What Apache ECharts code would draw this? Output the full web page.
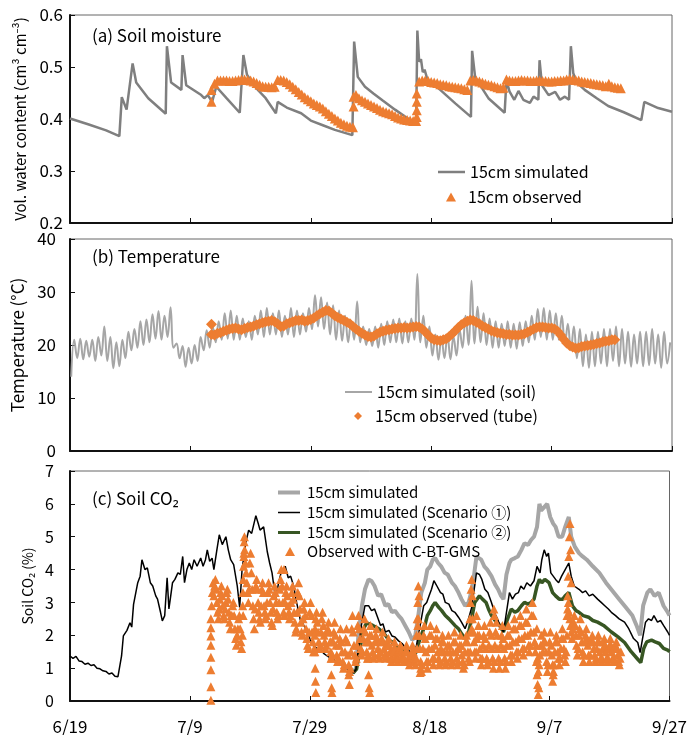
<!DOCTYPE html>
<html>
<head>
<meta charset="utf-8">
<script src="https://cdn.jsdelivr.net/npm/echarts@6/dist/echarts.min.js"></script>
<style>
html, body { margin: 0; padding: 0; background: #fff; }
#main { width: 690px; height: 735px; }
</style>
</head>
<body>
<div id="main"></div>
<script>
// x values are days counted from 6/19
var tickLabels = ['6/19', '7/9', '7/29', '8/18', '9/7', '9/27'];

// (a) soil moisture, simulated [day, value]
var moistSim = [[0,0.401],[3,0.39],[6,0.378],[8.2,0.367],[8.6,0.442],[9.4,0.418],[10.4,0.507],[11,0.47],[13,0.44],
  [15.9,0.41],[16.1,0.54],[16.8,0.47],[18.5,0.456],[18.7,0.523],[19.3,0.465],[21.8,0.446],[22.3,0.44],[22.9,0.446],
  [23.6,0.433],[24.3,0.462],[26,0.44],[28.2,0.412],[28.8,0.523],[29.4,0.485],[30.7,0.462],[32.5,0.44],[34.2,0.411],
  [34.5,0.433],[36,0.422],[38.4,0.411],[40,0.397],[42,0.388],[44,0.379],[46.9,0.369],[47.2,0.549],[47.8,0.481],
  [49,0.462],[50.4,0.449],[52,0.435],[54,0.418],[56,0.402],[57.5,0.392],[57.7,0.57],[58,0.51],[58.3,0.515],
  [58.6,0.49],[58.9,0.495],[59.4,0.475],[61.5,0.456],[64,0.43],[66.6,0.404],[66.8,0.531],[67.3,0.48],[69.5,0.44],
  [72.2,0.412],[72.5,0.475],[73,0.453],[73.8,0.437],[74.5,0.454],[75.3,0.437],[76.4,0.431],[77,0.443],[77.8,0.437],
  [78,0.513],[78.4,0.465],[79.5,0.446],[80.6,0.452],[81.4,0.437],[82.2,0.443],[82.9,0.437],[83.2,0.54],[83.6,0.488],
  [84.2,0.47],[85.5,0.456],[87.5,0.44],[89.4,0.425],[92,0.413],[94.9,0.398],[95.4,0.433],[97.7,0.421],[100,0.414]];

// (a) observed, every half day from day 23.5
var moistObsStart = 23.5;
var moistObs = [0.456,0.468,0.474,0.474,0.474,0.474,0.473,0.473,0.474,0.475,0.476,0.476,0.475,0.474,0.472,0.469,
  0.466,0.463,0.462,0.462,0.461,0.462,0.475,0.475,0.474,0.471,0.467,0.462,0.457,0.452,0.447,0.442,0.438,0.434,
  0.430,0.427,0.424,0.420,0.415,0.410,0.406,0.401,0.397,0.393,0.390,0.387,0.385,0.384,0.446,0.440,0.436,0.433,
  0.430,0.427,0.424,0.421,0.418,0.415,0.413,0.411,0.409,0.406,0.403,0.401,0.399,0.398,0.397,0.396,0.396,0.472,
  0.474,0.474,0.473,0.471,0.470,0.469,0.467,0.466,0.465,0.463,0.462,0.461,0.460,0.459,0.457,0.456,0.474,0.475,
  0.474,0.472,0.470,0.468,0.466,0.465,0.463,0.461,0.459,0.460,0.476,0.474,0.473,0.473,0.474,0.475,0.474,0.474,
  0.473,0.473,0.474,0.474,0.473,0.473,0.472,0.472,0.473,0.473,0.474,0.474,0.476,0.477,0.476,0.475,0.474,0.472,
  0.471,0.470,0.469,0.468,0.467,0.466,0.465,0.463,0.468,0.463,0.461,0.460,0.459];
var moistObsExtra = [[23.5,0.433],[47.1,0.424],[47.1,0.443],[57.6,0.404],[57.6,0.417],[57.6,0.433],[57.6,0.449]];

// (b) temperature, simulated daily low / high
var tempSimLo = [14.0,17.5,17.3,17.8,17.0,18.0,17.0,15.6,16.0,17.5,19.0,19.5,20.0,20.5,21.2,21.0,21.5,19.5,17.5,15.9,
  16.5,17.0,19.0,19.5,20.5,21.0,21.2,21.0,21.0,21.5,21.0,22.0,21.5,22.0,22.0,21.5,22.0,21.5,22.0,22.5,
  23.0,23.5,23.0,22.0,21.0,20.8,20.5,21.0,20.5,20.0,19.8,19.5,20.0,20.5,20.5,20.3,20.5,21.0,20.5,19.5,
  18.0,17.2,17.5,17.3,18.0,19.5,20.0,20.3,20.5,20.0,19.5,19.5,19.8,19.5,19.3,19.8,20.5,21.0,21.5,21.0,
  21.0,21.0,20.0,19.0,17.5,16.0,15.7,16.0,16.5,16.0,17.0,16.0,16.5,15.9,16.5,16.0,16.2,16.5,15.7,16.5];
var tempSimHi = [21.0,21.2,20.8,21.0,21.5,23.5,21.5,20.5,21.0,22.5,23.0,24.5,24.8,25.8,26.4,25.5,27.1,20.3,19.8,19.5,
  20.0,21.5,22.8,23.5,24.5,26.0,26.5,25.5,25.0,24.5,25.5,26.5,27.0,26.0,26.5,25.5,27.0,26.5,26.0,27.0,
  29.4,29.0,28.0,27.5,26.5,25.5,24.5,28.2,23.5,23.0,23.5,24.0,24.5,24.8,25.0,24.5,25.0,33.4,25.5,23.5,
  22.0,21.5,22.0,21.6,23.0,25.5,32.1,27.2,26.0,25.0,24.5,24.0,24.5,24.0,24.3,24.5,25.5,26.8,27.0,26.5,
  26.0,25.5,24.0,23.5,23.0,22.0,22.5,22.5,23.0,23.0,23.5,23.0,22.5,22.0,22.5,22.5,23.0,22.0,22.5,20.5];

// (b) observed, every half day from day 23.5
var tempObsStart = 23.5;
var tempObs = [22.0,21.9,22.2,22.3,22.6,22.8,23.0,23.1,23.2,23.0,22.9,23.1,23.3,23.4,23.6,23.8,24.0,24.2,24.4,24.5,
  24.6,24.4,24.0,23.5,23.6,24.0,24.2,24.4,24.6,24.6,24.7,24.5,24.6,24.8,25.1,25.5,25.9,26.2,26.5,26.4,
  26.0,25.5,25.2,24.9,24.6,24.3,24.0,23.5,23.0,22.6,22.2,21.9,21.6,21.5,21.7,22.1,22.4,22.6,22.8,22.9,
  23.0,23.1,23.2,23.2,23.3,23.2,23.3,23.4,23.5,23.4,23.0,22.5,21.9,21.3,21.0,20.9,20.8,21.0,21.2,21.6,
  22.1,22.7,23.3,23.8,24.2,24.5,24.7,24.6,24.3,24.0,23.6,23.3,23.0,22.7,22.5,22.3,22.2,22.1,22.0,22.0,
  21.9,21.9,21.9,22.0,22.1,22.4,22.7,23.0,23.3,23.4,23.4,23.3,23.2,23.2,23.0,22.6,21.9,21.1,20.4,19.9,
  19.6,19.4,19.5,19.7,19.8,19.9,20.0,20.1,20.3,20.4,20.6,20.7,20.8,21.0,21.0];
var tempObsExtra = [[23.5,23.9]];

// (c) soil CO2 [day, %]
var co2Sim = [[47.2,0.85],[47.7,1.0],[48.1,2.0],[48.7,2.9],[49.2,3.4],[49.8,3.7],[50.3,3.65],[50.8,3.5],[51.4,3.2],
  [51.9,3.25],[52.6,2.9],[53.1,2.95],[53.7,2.7],[54.2,2.75],[54.8,2.6],[55.3,2.5],[55.9,2.3],[56.5,2.1],[57.1,1.85],
  [57.6,2.0],[58.1,2.6],[58.6,3.3],[59.2,3.6],[59.6,4.0],[60.1,4.1],[60.5,4.3],[60.9,4.35],[61.4,4.2],[61.9,4.1],
  [62.5,3.9],[63,3.85],[63.7,3.6],[64.2,3.5],[64.8,3.3],[65.3,3.1],[65.9,2.9],[66.5,3.0],[66.9,3.3],[67.3,3.7],
  [67.8,4.4],[68.2,4.35],[68.6,4.3],[69.1,4.1],[69.6,4.0],[70.3,3.8],[70.9,3.55],[71.4,3.4],[71.9,3.2],[72.3,3.1],
  [72.8,3.85],[73.3,4.2],[73.6,4.3],[74.2,4.35],[74.7,4.4],[75.3,4.6],[75.8,4.8],[76.4,4.75],[76.9,4.9],[77.4,5.0],
  [77.9,5.3],[78.3,6.0],[78.6,5.8],[79.1,5.9],[79.6,6.0],[80.1,5.6],[80.6,5.4],[81,5.3],[81.5,5.0],[82.1,5.0],
  [82.6,5.3],[83.2,5.6],[83.6,5.0],[84.2,4.7],[84.9,4.5],[85.5,4.4],[86.2,4.3],[87.2,4.1],[88.3,3.9],[89.4,3.6],
  [90.5,3.35],[91.6,3.1],[92.7,2.85],[93.8,2.6],[94.5,2.3],[95.1,2.0],[95.6,2.9],[96.3,3.3],[96.8,3.4],[97.5,3.2],
  [98.2,3.3],[99,2.9],[99.7,2.7],[100,2.6]];
var co2Scen1 = [[0,1.37],[0.5,1.30],[1,1.36],[1.5,1.22],[2,1.2],[2.5,1.12],[3,1.15],[3.5,1.08],[4,1.1],[4.5,1.0],
  [5,0.98],[5.5,0.92],[6,0.9],[6.5,0.82],[7,0.85],[7.5,0.75],[8,0.74],[8.3,0.72],[8.6,1.37],[8.9,1.98],[9.5,2.15],
  [10,2.38],[10.3,2.25],[10.6,2.94],[11.3,3.6],[11.7,3.8],[12,4.3],[12.5,4.0],[12.9,4.05],[13.4,3.6],[13.8,3.5],
  [14.3,3.2],[14.6,3.1],[15.1,2.7],[15.4,2.44],[15.8,2.6],[16.2,3.75],[16.5,2.8],[16.8,3.2],[17.1,3.6],[17.5,3.7],
  [18,3.9],[18.4,3.85],[18.8,4.4],[19.1,3.6],[19.5,4.0],[19.9,4.2],[20.3,4.0],[20.7,4.3],[21.2,4.1],[21.8,4.35],
  [22.2,4.1],[22.6,4.3],[22.9,4.6],[23.3,4.25],[23.7,4.35],[24,4.0],[24.5,4.6],[24.9,5.06],[25.4,4.76],[26,5.0],
  [26.4,4.6],[26.8,4.3],[27.3,4.15],[27.9,3.5],[28.3,2.85],[28.7,4.0],[29.3,4.8],[29.8,5.2],[30.3,5.1],[31,5.64],
  [31.4,5.4],[31.7,5.2],[32.3,5.3],[32.9,4.55],[33.3,4.2],[33.7,3.9],[34.3,3.1],[34.8,3.6],[35.2,3.9],[35.9,4.1],
  [36.4,3.75],[36.8,3.8],[37.3,3.5],[37.8,3.0],[38.4,2.48],[39,2.3],[39.5,2.18],[40,1.9],[40.6,1.68],[41.2,1.6],
  [41.8,1.58],[42.3,1.45],[42.9,1.37],[43.5,1.3],[44,1.27],[44.6,1.15],[45.1,1.1],[45.6,1.07],[46.2,0.98],
  [46.7,0.92],[47.2,0.85],[47.7,0.95],[48.1,1.6],[48.6,2.3],[49.2,2.9],[49.8,2.9],[50.3,2.75],[50.8,2.8],[51.2,2.6],
  [51.8,2.3],[52.2,2.35],[52.6,2.1],[53.2,2.15],[53.7,1.98],[54.2,1.95],[54.8,1.83],[55.4,1.75],[55.9,1.63],
  [56.5,1.55],[57,1.37],[57.4,1.47],[57.8,1.7],[58.2,2.1],[59,2.9],[59.5,3.0],[59.9,3.2],[60.3,3.4],[60.7,3.66],
  [61.2,3.5],[61.8,3.3],[62.2,3.25],[62.6,3.0],[63.2,2.95],[63.7,2.75],[64.2,2.7],[64.8,2.55],[65.3,2.4],[65.9,2.2],
  [66.4,2.45],[67,2.85],[67.5,3.5],[67.8,3.9],[68.3,3.85],[68.7,3.7],[69.2,3.4],[69.7,3.3],[70.3,3.0],[70.9,2.65],
  [71.3,2.5],[71.7,2.3],[72.3,2.1],[72.8,2.7],[73.3,3.3],[73.8,3.1],[74.3,3.25],[74.8,3.3],[75.2,3.5],[75.7,3.4],
  [76.2,3.6],[76.8,3.5],[77.4,3.66],[77.9,4.1],[78.4,3.9],[78.7,4.3],[79.1,4.6],[79.5,4.4],[79.8,4.5],[80.2,3.9],
  [80.6,3.8],[81,3.7],[81.5,3.6],[82,3.8],[82.6,4.0],[83.2,4.2],[83.6,3.8],[84.1,3.5],[84.9,3.4],[85.5,3.3],
  [86,3.35],[86.6,3.2],[87.2,3.25],[88,3.1],[88.6,3.0],[89.2,2.9],[89.8,2.8],[90.3,2.7],[91,2.6],[91.6,2.5],
  [92.5,2.4],[93.2,2.2],[94,1.9],[94.7,1.78],[95.1,1.47],[95.5,1.9],[96,2.4],[96.5,2.5],[97,2.45],[97.4,2.6],
  [98,2.4],[98.5,2.45],[99,2.3],[99.7,2.1],[100,2.0]];
var co2Scen2 = [[47.2,0.85],[47.8,0.97],[48.3,1.5],[48.9,2.18],[49.5,2.38],[49.9,2.35],[50.5,2.3],[51,2.25],[51.5,2.2],
  [52.1,2.1],[52.6,2.0],[53.2,1.85],[53.7,1.8],[54.2,1.7],[55,1.6],[55.9,1.5],[56.6,1.4],[57.3,1.25],[57.8,1.55],
  [58.4,1.9],[59.2,2.3],[59.6,2.6],[60.1,2.75],[60.5,2.9],[60.9,3.0],[61.5,2.85],[62,2.75],[62.6,2.6],[63.2,2.5],
  [63.7,2.4],[64.2,2.3],[64.8,2.2],[65.3,2.05],[65.9,1.9],[66.5,2.1],[67,2.5],[67.5,3.0],[68.3,3.2],[68.8,3.1],
  [69.4,3.0],[69.8,2.8],[70.3,2.6],[70.9,2.45],[71.5,2.35],[72.3,2.1],[72.8,2.4],[73.6,2.8],[74.2,2.7],[74.7,2.75],
  [75.3,2.9],[75.8,3.0],[76.4,2.95],[76.9,3.0],[77.4,3.1],[77.9,3.5],[78.3,3.7],[78.7,3.6],[79.2,3.7],[79.9,3.6],
  [80.5,3.3],[81,3.2],[81.6,3.1],[82.2,3.1],[82.6,3.2],[83.2,3.3],[83.8,2.9],[84.4,2.75],[84.9,2.7],[85.6,2.6],
  [86.5,2.55],[87.2,2.45],[88,2.4],[89,2.3],[90.3,2.1],[91.4,1.95],[92.5,1.78],[93.6,1.5],[94.7,1.27],[95.2,1.17],
  [95.7,1.6],[96.2,1.8],[97,1.85],[97.6,1.8],[98.3,1.75],[99,1.6],[99.7,1.55],[100,1.5]];

// (c) observed, every 1/8 day from day 23.5 (one row per day)
var co2ObsStart = 23.5;
var co2Obs = [2.5,2.9,3.3,3.6,
  3.2,3.5,3.7,3.4,3.0,2.7,2.5,2.8,  3.1,3.3,3.5,3.2,2.9,2.6,2.5,2.8,
  3.0,3.3,3.4,3.1,2.7,2.4,2.2,2.6,  2.6,2.9,3.0,2.6,2.2,1.9,1.7,2.0,
  2.2,2.5,2.6,2.2,1.8,1.6,2.0,2.6,  4.4,4.6,4.2,3.9,3.6,3.3,3.0,3.4,
  4.2,4.5,3.9,3.4,2.9,2.5,2.2,2.8,  3.5,3.7,3.4,3.0,2.7,2.5,2.4,2.9,
  3.4,3.6,3.3,2.9,2.7,2.5,2.6,3.0,  3.3,3.6,3.4,3.0,2.7,2.4,2.3,2.8,
  3.2,3.5,3.3,3.0,2.7,2.5,2.6,3.0,  3.4,3.7,4.0,3.5,3.0,2.7,2.6,3.0,
  3.3,3.5,3.2,2.9,2.7,2.5,2.6,3.0,  3.3,3.5,3.1,2.7,2.4,2.1,2.2,2.7,
  3.3,3.6,3.2,2.8,2.4,2.1,2.0,2.5,  2.8,3.0,2.6,2.2,1.9,1.7,1.6,2.1,
  2.7,3.0,2.6,2.1,1.8,1.5,1.6,2.2,  2.5,2.7,2.4,2.1,1.8,1.6,1.7,2.1,
  2.5,2.7,2.3,2.0,1.8,1.6,1.7,2.1,  2.2,2.4,2.1,1.8,1.5,1.3,1.4,1.8,
  2.1,2.4,2.0,1.7,1.4,1.2,1.3,1.7,  1.9,2.2,1.8,1.5,1.2,1.0,1.1,1.5,
  1.9,2.2,1.8,1.4,1.1,0.9,1.0,1.5,  2.2,2.6,2.1,1.7,1.4,1.2,1.3,1.7,
  2.3,2.6,2.2,1.9,1.6,1.4,1.5,1.9,  2.2,2.5,2.1,1.8,1.5,1.3,1.4,1.8,
  2.0,2.3,2.0,1.7,1.5,1.3,1.4,1.8,  2.0,2.2,1.9,1.6,1.4,1.3,1.5,1.8,
  1.9,2.1,1.8,1.6,1.4,1.3,1.4,1.7,  1.7,1.9,1.7,1.5,1.3,1.2,1.3,1.5,
  1.6,1.8,1.6,1.4,1.3,1.2,1.3,1.5,  1.6,1.7,1.5,1.4,1.3,1.2,1.3,1.5,
  1.5,1.7,1.5,1.3,1.2,1.1,1.2,1.4,  1.5,1.7,1.5,1.3,1.2,1.1,1.3,1.6,
  2.3,2.5,2.0,1.6,1.2,0.9,1.1,1.6,  2.0,2.3,1.9,1.5,1.2,1.0,1.2,1.6,
  2.0,2.3,2.0,1.6,1.3,1.1,1.3,1.7,  1.9,2.2,1.9,1.5,1.3,1.1,1.2,1.6,
  1.8,2.0,1.8,1.5,1.3,1.1,1.2,1.5,  1.7,2.0,1.7,1.5,1.3,1.1,1.2,1.5,
  1.8,2.1,1.8,1.5,1.3,1.1,1.2,1.6,  1.7,2.0,1.7,1.4,1.2,1.0,1.1,1.5,
  1.8,2.0,1.8,1.5,1.3,1.2,1.5,2.1,  2.2,2.5,2.1,1.8,1.5,1.3,1.5,1.9,
  2.0,2.3,2.0,1.6,1.3,1.1,1.3,1.7,  2.0,2.3,1.9,1.6,1.3,1.1,1.2,1.7,
  2.1,2.4,2.0,1.6,1.3,1.0,1.2,1.7,  2.1,2.4,2.0,1.6,1.3,1.0,1.2,1.7,
  2.0,2.3,1.9,1.6,1.3,1.0,1.2,1.7,  2.0,2.3,2.0,1.7,1.4,1.2,1.4,1.8,
  2.2,2.5,2.2,1.8,1.5,1.3,1.5,1.9,  2.3,2.6,2.3,1.9,1.6,1.4,1.6,2.0,
  2.4,2.8,2.4,2.0,1.7,1.5,1.7,2.1,  2.6,3.0,2.6,2.1,1.8,1.5,1.7,2.2,
  1.3,0.9,1.1,1.4,1.7,2.0,1.7,1.5,  1.8,2.1,1.8,1.5,1.2,0.9,1.1,1.5,
  1.8,2.1,1.7,1.4,1.1,0.9,1.1,1.5,  1.8,2.0,1.8,1.5,1.3,1.1,1.3,1.6,
  1.9,2.2,1.9,1.6,1.4,1.2,1.5,2.0,  2.8,3.0,2.7,2.5,2.3,2.1,1.9,2.2,
  2.4,2.6,2.3,2.0,1.7,1.4,1.6,2.0,  2.2,2.5,2.1,1.8,1.5,1.2,1.4,1.8,
  2.0,2.2,1.9,1.7,1.4,1.2,1.4,1.8,  1.8,2.0,1.8,1.6,1.4,1.2,1.3,1.6,
  1.8,2.0,1.8,1.5,1.3,1.2,1.3,1.6,  1.8,1.9,1.7,1.5,1.3,1.2,1.3,1.6,
  1.7,1.9,1.7,1.5,1.3,1.2,1.3,1.6,  1.7,1.8,1.6,1.4,1.2,1.1,1.3,1.5];
var co2ObsSpikes = [[23.5,0.02],[23.5,0.43],[23.5,0.95],[23.5,1.33],[23.5,1.7],[23.5,1.98],[23.5,2.23],
  [28.8,2.9],[28.85,3.3],[28.9,3.7],[28.95,4.1],[29.0,4.5],[29.05,4.85],[29.1,5.0],[35.7,4.0],
  [40.8,2.0],[40.85,1.5],[40.9,1.0],[40.95,0.6],[41.0,0.26],[43.5,1.8],[43.55,1.3],[43.6,0.8],[43.65,0.4],[43.7,0.26],
  [46.5,0.8],[46.6,0.5],[49.6,1.8],[49.7,1.3],[49.8,0.8],[49.9,0.4],[50.0,0.26],
  [57.8,2.0],[57.9,2.5],[58.0,3.0],[58.1,3.5],[58.2,3.2],[58.4,0.87],[58.5,1.0],
  [66.7,2.5],[66.8,3.0],[66.9,3.4],[67.0,3.7],[67.1,3.2],[67.8,2.6],[70.7,2.8],[70.8,2.6],
  [77.8,1.2],[77.9,0.8],[78.0,0.5],[78.1,0.2],[78.2,0.4],[80.5,0.6],[80.6,0.8],
  [82.9,2.6],[83.0,3.2],[83.1,3.8],[83.2,4.4],[83.3,5.0],[83.4,5.4],[83.5,4.6],[83.6,3.6]];

var legendText = {
  aSim: '15cm simulated', aObs: '15cm observed',
  bSim: '15cm simulated (soil)', bObs: '15cm observed (tube)',
  cSim: '15cm simulated', cS1: '15cm simulated (Scenario \u2460)',
  cS2: '15cm simulated (Scenario \u2461)', cObs: 'Observed with C-BT-GMS'
};

function stepped(start, step, vals) {
  return vals.map(function (v, i) { return [start + i * step, v]; });
}

var tempSim = [];
for (var d = 0; d < tempSimLo.length; d++) {
  tempSim.push([d + 0.2, tempSimLo[d]]);
  tempSim.push([d + 0.7, tempSimHi[d]]);
}

var FONT = '"Noto Sans CJK JP", "Noto Sans", sans-serif';
var chart = echarts.init(document.getElementById('main'), null, { renderer: 'canvas' });

var grids = [
  { left: 70, top: 15, width: 602, height: 208 },
  { left: 70, top: 239, width: 602, height: 212 },
  { left: 70, top: 471, width: 602, height: 231 }
];

function xAxisFor(i, showLabel) {
  return {
    type: 'value', gridIndex: i, min: 0, max: 100, interval: 20,
    axisLine: { show: true, onZero: false, lineStyle: { color: '#111', width: 2 } },
    axisTick: { show: true, inside: true, length: 5, lineStyle: { color: '#111', width: 1 } },
    splitLine: { show: false },
    axisLabel: {
      show: showLabel, margin: 17, fontSize: 17, color: '#000', fontFamily: FONT,
      formatter: function (v) { return tickLabels[Math.round(v / 20)]; }
    }
  };
}

function yAxisFor(i, min, max, interval, name, nameGap, nameSize, labelSize, margin, fmt) {
  return {
    type: 'value', gridIndex: i, min: min, max: max, interval: interval,
    name: name, nameLocation: 'middle', nameGap: nameGap,
    nameTextStyle: { fontSize: nameSize, color: '#000', fontFamily: FONT },
    axisLine: { show: true, lineStyle: { color: '#111', width: 2 } },
    axisTick: { show: true, inside: true, length: 5, lineStyle: { color: '#111' } },
    splitLine: { show: false },
    axisLabel: { fontSize: labelSize, color: '#000', margin: margin, fontFamily: FONT, formatter: fmt }
  };
}

function legendFor(names, left, top, w, h, size, pad) {
  return {
    data: names, left: left, top: top, itemWidth: w, itemHeight: h, orient: 'vertical',
    formatter: function (n) { return legendText[n]; },
    textStyle: { fontSize: size, color: '#000', fontFamily: FONT, padding: [0, 0, 0, pad] }
  };
}

var option = {
  animation: false,
  backgroundColor: '#fff',
  textStyle: { fontFamily: FONT },
  grid: grids.map(function (g) {
    return Object.assign({ show: true, borderColor: '#666', borderWidth: 1, backgroundColor: 'transparent' }, g);
  }),
  xAxis: [xAxisFor(0, false), xAxisFor(1, false), xAxisFor(2, true)],
  yAxis: [
    yAxisFor(0, 0.2, 0.6, 0.1, 'Vol. water content (cm\u00b3 cm\u207b\u00b3)', 42, 15, 17, 7,
      function (v) { return v.toFixed(1); }),
    yAxisFor(1, 0, 40, 10, 'Temperature (\u00b0C)', 39, 17, 17, 14, null),
    yAxisFor(2, 0, 7, 1, 'Soil CO\u2082 (%)', 33, 14, 16, 16, null)
  ],
  graphic: [
    { type: 'text', left: 92, top: 27, style: { text: '(a) Soil moisture', font: '17px ' + FONT, fill: '#000' } },
    { type: 'text', left: 92, top: 248, style: { text: '(b) Temperature', font: '17px ' + FONT, fill: '#000' } },
    { type: 'text', left: 92, top: 490, style: { text: '(c) Soil CO\u2082', font: '17px ' + FONT, fill: '#000' } }
  ],
  legend: [
    legendFor([{ name: 'aSim', icon: 'rect' }], 433, 159, 27, 2.5, 16, 0),
    legendFor(['aObs'], 441, 184, 10, 9, 16, 7),
    legendFor([{ name: 'bSim', icon: 'rect' }], 340, 379, 27, 2, 16, 0),
    legendFor(['bObs'], 349, 403, 8, 8, 16, 8),
    legendFor([{ name: 'cSim', icon: 'rect' }], 273, 480, 22, 4, 15, 2),
    legendFor([{ name: 'cS1', icon: 'rect' }], 273, 500, 22, 1.5, 15, 2),
    legendFor([{ name: 'cS2', icon: 'rect' }], 273, 520, 22, 3, 15, 2),
    legendFor(['cObs'], 280, 539, 10, 9, 15, 7)
  ],
  series: [
    { name: 'aSim', type: 'line', xAxisIndex: 0, yAxisIndex: 0, data: moistSim, symbol: 'none',
      lineStyle: { color: '#7f7f7f', width: 2.5 }, itemStyle: { color: '#7f7f7f' }, z: 2 },
    { name: 'aObs', type: 'scatter', xAxisIndex: 0, yAxisIndex: 0,
      data: stepped(moistObsStart, 0.5, moistObs).concat(moistObsExtra),
      symbol: 'triangle', symbolSize: 10, itemStyle: { color: '#ED7D31', opacity: 1 }, z: 3 },
    { name: 'bSim', type: 'line', xAxisIndex: 1, yAxisIndex: 1, data: tempSim, symbol: 'none', smooth: 0.4,
      lineStyle: { color: '#a6a6a6', width: 2 }, itemStyle: { color: '#a6a6a6' }, z: 2 },
    { name: 'bObs', type: 'scatter', xAxisIndex: 1, yAxisIndex: 1,
      data: stepped(tempObsStart, 0.5, tempObs).concat(tempObsExtra),
      symbol: 'diamond', symbolSize: 11, itemStyle: { color: '#ED7D31', opacity: 1 }, z: 3 },
    { name: 'cSim', type: 'line', xAxisIndex: 2, yAxisIndex: 2, data: co2Sim, symbol: 'none',
      lineStyle: { color: '#a6a6a6', width: 4 }, itemStyle: { color: '#a6a6a6' }, z: 2 },
    { name: 'cS1', type: 'line', xAxisIndex: 2, yAxisIndex: 2, data: co2Scen1, symbol: 'none',
      lineStyle: { color: '#000', width: 1.5 }, itemStyle: { color: '#000' }, z: 3 },
    { name: 'cS2', type: 'line', xAxisIndex: 2, yAxisIndex: 2, data: co2Scen2, symbol: 'none',
      lineStyle: { color: '#375623', width: 3.5 }, itemStyle: { color: '#375623' }, z: 2 },
    { name: 'cObs', type: 'scatter', xAxisIndex: 2, yAxisIndex: 2,
      data: stepped(co2ObsStart, 0.125, co2Obs).concat(co2ObsSpikes),
      symbol: 'triangle', symbolSize: 9, itemStyle: { color: '#ED7D31', opacity: 1 }, z: 4 }
  ]
};

chart.setOption(option);
</script>
</body>
</html>
